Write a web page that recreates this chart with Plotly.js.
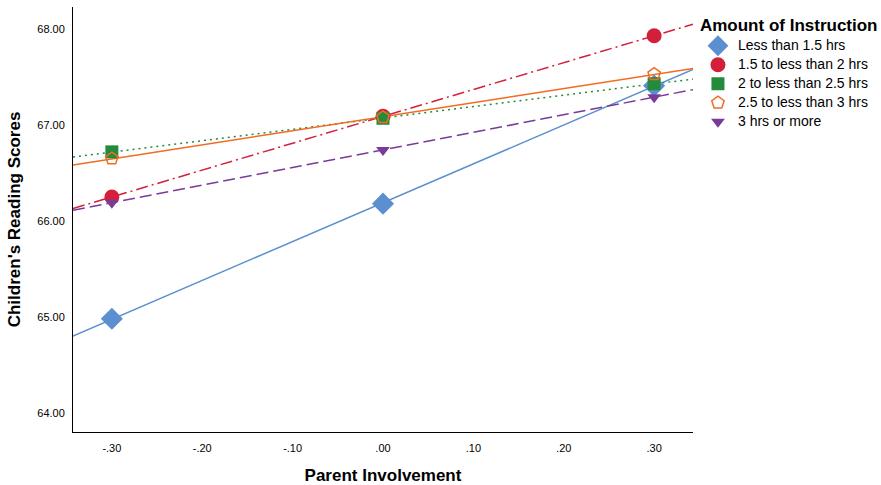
<!DOCTYPE html>
<html><head><meta charset="utf-8">
<script src="https://cdn.plot.ly/plotly-3.0.1.min.js"></script>
<style>body{margin:0;background:#fff}#chart{width:881px;height:485px}</style>
</head><body><div id="chart"></div>
<script>
const groups = ["Less than 1.5 hrs","1.5 to less than 2 hrs","2 to less than 2.5 hrs","2.5 to less than 3 hrs","3 hrs or more"];
const involvement = [-0.30, 0.00, 0.30];
const scoresLess15 = [64.98, 66.18, 67.41];
const scores15to2 = [66.25, 67.09, 67.93];
const scores2to25 = [66.72, 67.07, 67.43];
const scores25to3 = [66.65, 67.08, 67.53];
const scores3plus = [66.19, 66.74, 67.29];
const xTickVals = [-0.30,-0.20,-0.10,0.00,0.10,0.20,0.30];
const xTickText = ["-.30","-.20","-.10",".00",".10",".20",".30"];
const yTickVals = [64,65,66,67,68];
const yTickText = ["64.00","65.00","66.00","67.00","68.00"];

const series = [scoresLess15, scores15to2, scores2to25, scores25to3, scores3plus];
const colors = ["#5b8fcf","#d41f3b","#238b3d","#f26b22","#7a3a9a"];
const symbols = ["diamond","circle","square","pentagon-open","triangle-down"];
const sizes = [17,15,13,13,12];
const dashes = ["solid","12px,4px,2px,4px","2px,4px","solid","12px,5px"];
const xr = [-0.343, 0.343];

function fit(xs, ys){
  const n = xs.length;
  const mx = xs.reduce((a,b)=>a+b,0)/n, my = ys.reduce((a,b)=>a+b,0)/n;
  let sxy=0, sxx=0;
  for(let i=0;i<n;i++){sxy+=(xs[i]-mx)*(ys[i]-my); sxx+=(xs[i]-mx)**2;}
  const b = sxy/sxx, a = my - b*mx;
  return xr.map(x=>a+b*x);
}

const traces = [];
series.forEach((ys,i)=>{
  traces.push({x: xr, y: fit(involvement, ys), mode:"lines", showlegend:false, hoverinfo:"skip",
    line:{color:colors[i], width:1.5, dash:dashes[i]}});
});
series.forEach((ys,i)=>{
  traces.push({x: involvement, y: ys, mode:"markers", name: '<span style="font-size:14px">' + groups[i] + '</span>',
    marker:{symbol:symbols[i], size:sizes[i], color:colors[i], line:{color:colors[i], width: symbols[i].endsWith("open")?1.5:0}}});
});

const layout = {
  width:881, height:485,
  margin:{l:73, r:188, t:7, b:53, autoexpand:false},
  paper_bgcolor:"#fff", plot_bgcolor:"#fff",
  font:{family:"Liberation Sans, Arial, sans-serif", color:"#000"},
  xaxis:{range:xr, showgrid:false, zeroline:false, showline:true, linecolor:"#000", linewidth:1,
    tickvals:xTickVals, ticktext:xTickText, ticks:"", tickfont:{size:11}, ticklabelstandoff:6,
    title:{text:"<b>Parent Involvement</b>", font:{size:17}, standoff:20}},
  yaxis:{range:[63.8, 68.23], showgrid:false, zeroline:false, showline:true, linecolor:"#000", linewidth:1,
    tickvals:yTickVals, ticktext:yTickText, ticks:"", tickfont:{size:11}, ticklabelstandoff:5,
    title:{text:"<b>Children's Reading Scores</b>", font:{size:17}, standoff:12}},
  legend:{x:1.008, y:0.995, xanchor:"left", yanchor:"top", font:{size:11.7}, tracegroupgap:0,
    itemsizing:"trace",
    title:{text:"<b>Amount of Instruction</b>", font:{size:17}}},
  showlegend:true
};
Plotly.newPlot("chart", traces, layout, {staticPlot:true});
</script></body></html>
